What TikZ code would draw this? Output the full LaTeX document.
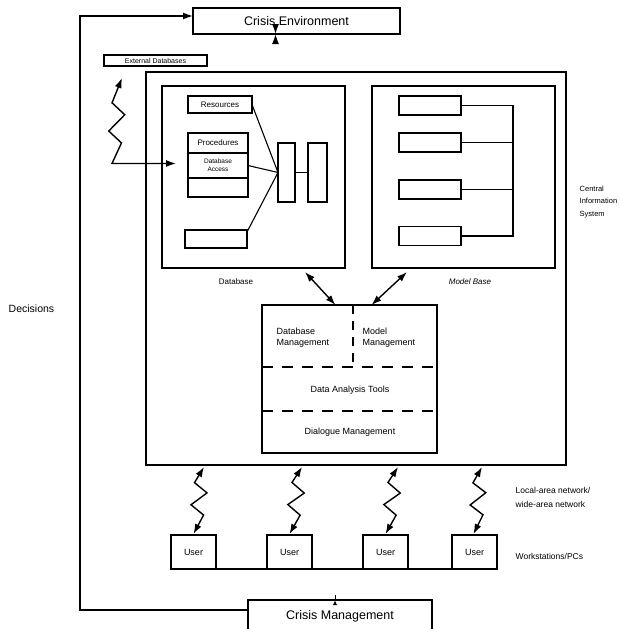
\documentclass[tikz,border=0pt]{standalone}
\usepackage{fontspec}
\setmainfont{Liberation Sans}
\usetikzlibrary{arrows.meta,calc}
\begin{document}
\begin{tikzpicture}[x=1pt,y=-1pt,
  line width=1.4pt,
  box/.style={draw, line width=1.4pt, inner sep=0pt, outer sep=0pt, align=center},
  sbox/.style={draw, line width=1.1pt, inner sep=0pt, outer sep=0pt, align=center},
  lbl/.style={inner sep=0pt, align=left},
  arrowto/.style={-{Latex[length=10pt,width=7pt]}},
  dbl/.style={{Latex[length=10pt,width=7pt]}-{Latex[length=10pt,width=7pt]}},
  dsh/.style={dash pattern=on 11pt off 9pt, line width=1.2pt},
  bolt/.style={to path={
    -- ($(\tikztostart)!0.25!(\tikztotarget)!-7pt!90:(\tikztotarget)$)
    -- ($(\tikztostart)!0.37!(\tikztotarget)!7pt!90:(\tikztotarget)$)
    -- ($(\tikztostart)!0.58!(\tikztotarget)!-7pt!90:(\tikztotarget)$)
    -- ($(\tikztostart)!0.70!(\tikztotarget)!7pt!90:(\tikztotarget)$)
    -- (\tikztotarget)}},
  fbig/.style={font=\fontsize{12.5}{14}\selectfont},
  fmid/.style={font=\fontsize{9}{11}\selectfont},
  fsm/.style={font=\fontsize{8}{9.5}\selectfont},
]
\useasboundingbox (0,0) rectangle (620,629);

% main boxes
\node[box, minimum width=420pt, minimum height=393pt] (cis) at (356,268.5) {};
\node[box, fbig, minimum width=207pt, minimum height=26pt] (env) at (296.5,21) {Crisis Environment};
\node[sbox, font=\fontsize{7}{8}\selectfont, minimum width=103pt, minimum height=11pt] (ext) at (155.5,60.5) {External Databases};
\node[box, minimum width=183pt, minimum height=182pt] (db) at (253.5,177) {};
\node[box, minimum width=183pt, minimum height=182pt] (mb) at (463.5,177) {};

% database contents
\node[sbox, fsm, minimum width=64pt, minimum height=17pt] (res) at (220,104.5) {Resources};
\node[sbox, fsm, minimum width=60pt, minimum height=20pt] (proc) at (218,143) {Procedures};
\node[sbox, font=\fontsize{6.5}{8}\selectfont, minimum width=60pt, minimum height=25pt] (dbacc) at (218,165.5) {Database\\Access};
\node[sbox, minimum width=60pt, minimum height=19pt] (blank) at (218,187.5) {};
\node[sbox, minimum width=62pt, minimum height=18pt] (bot) at (216,239) {};
\node[sbox, minimum width=17pt, minimum height=59pt] (r1) at (286.5,172.5) {};
\node[sbox, minimum width=19pt, minimum height=59pt] (r2) at (317.5,172.5) {};
\draw[line width=1.1pt] (res.east) -- (r1.west);
\draw[line width=1.1pt] (dbacc.east) -- (r1.west);
\draw[line width=1.1pt] ([yshift=-2pt]bot.north east) -- (r1.west);
\draw[line width=1.1pt] (r1.east) -- (r2.west);

% model base contents
\node[sbox, minimum width=62pt, minimum height=19pt] (m1) at (430,105.5) {};
\node[sbox, minimum width=62pt, minimum height=19pt] (m2) at (430,142.5) {};
\node[sbox, minimum width=62pt, minimum height=19pt] (m3) at (430,189.5) {};
\node[sbox, minimum width=62pt, minimum height=19pt] (m4) at (430,236) {};
\coordinate (bus) at (513,0);
\draw[line width=1.1pt] (m1.east) -- (m1.east -| bus) -- (m4.east -| bus) -- (m4.east);
\draw[line width=1.1pt] (m2.east) -- (m2.east -| bus);
\draw[line width=1.1pt] (m3.east) -- (m3.east -| bus);

\node[lbl, fsm] (dblbl) at (236,282) {Database};
\node[lbl, fsm, font=\fontsize{8}{9.5}\selectfont\itshape] (mblbl) at (470,282) {Model Base};

% DBMS box
\node[box, minimum width=175pt, minimum height=148pt] (dbms) at (349.5,379) {};
\draw[dsh] ($(dbms.north west)!0.419!(dbms.south west)$) -- ($(dbms.north east)!0.419!(dbms.south east)$);
\draw[dsh] ($(dbms.north west)!0.716!(dbms.south west)$) -- ($(dbms.north east)!0.716!(dbms.south east)$);
\draw[dash pattern=on 9pt off 7pt, line width=1.2pt] ($(dbms.north west)!0.52!(dbms.north east)$) -- ++(0,62);
\node[lbl, fmid, anchor=west] (dbmt) at (276,338) {Database\\Management};
\node[lbl, fmid, anchor=west] (mmt) at (362,338) {Model\\Management};
\node[lbl, fmid] (dat) at (350,390) {Data Analysis Tools};
\node[lbl, fmid] (dlg) at (350,432) {Dialogue Management};

% arrows to DBMS
\draw[dbl] ($(db.south east)+(-40,4)$) -- ($(dbms.north)+(-14,0)$);
\draw[dbl] ($(mb.south west)+(35,4)$) -- ($(dbms.north)+(22,0)$);

% crisis environment <-> CIS
\draw[dbl] ($(env.south)+(-21,0)$) -- ($(env.south)+(-21,0)$ |- cis.north);

% users
\node[box, fmid, minimum width=45pt, minimum height=34pt] (u1) at (193.5,552) {User};
\node[box, fmid, minimum width=45pt, minimum height=34pt] (u2) at (289.5,552) {User};
\node[box, fmid, minimum width=45pt, minimum height=34pt] (u3) at (385.5,552) {User};
\node[box, fmid, minimum width=45pt, minimum height=34pt] (u4) at (474.5,552) {User};

\coordinate (s1) at (204,467);
\coordinate (s2) at (302,467);
\coordinate (s3) at (398,467);
\coordinate (s4) at (482,467);
\draw[dbl] (s1) to[bolt] ($(u1.north)+(0,-1)$);
\draw[dbl] (s2) to[bolt] ($(u2.north)+(0,-1)$);
\draw[dbl] (s3) to[bolt] ($(u3.north)+(0,-1)$);
\draw[dbl] (s4) to[bolt] ($(u4.north)+(-1,-1)$);

% crisis management and user bus
\node[box, fbig, minimum width=184pt, minimum height=32pt] (cm) at (340,616) {Crisis Management};
\coordinate (busL) at (183,582);
\draw[line width=1.1pt] ($(u1.south)+(-10.5,0)$) |- ($(u4.south)+(-7.5,0)$ |- busL) -- ($(u4.south)+(-7.5,0)$);
\draw[line width=1.1pt] ($(u2.south)+(-3.5,0)$) -- ($(u2.south)+(-3.5,0)$ |- busL);
\draw[line width=1.1pt] ($(u3.south)+(2.5,0)$) -- ($(u3.south)+(2.5,0)$ |- busL);
\draw[line width=0.9pt, -{Latex[length=5pt,width=4pt]}] ($(cm.north)+(-5,0)$) -- ($(cm.north)+(-5,0)$ |- busL);

% decisions loop
\coordinate (lp) at (80,16);
\draw[arrowto] ($(cm.north west)+(0,10)$) -| (lp) -- (env.west |- lp);

% external databases link
\coordinate (xend) at (122,78);
\draw[dbl] ($(dbacc.west)+(-12,-2)$) -- ++(-64,0) to[bolt] (xend);

% side labels
\node[lbl, font=\fontsize{10.5}{12}\selectfont, anchor=west] (dec) at (8,309) {Decisions};
\node[lbl, font=\fontsize{7.5}{12.5}\selectfont, anchor=west] (cisl) at (579,202) {Central\\Information\\System};
\node[lbl, font=\fontsize{8.5}{14}\selectfont, anchor=west] (lan) at (515,497) {Local-area network/\\wide-area network};
\node[lbl, font=\fontsize{8.5}{10}\selectfont, anchor=west] (ws) at (515,556) {Workstations/PCs};
\end{tikzpicture}
\end{document}
